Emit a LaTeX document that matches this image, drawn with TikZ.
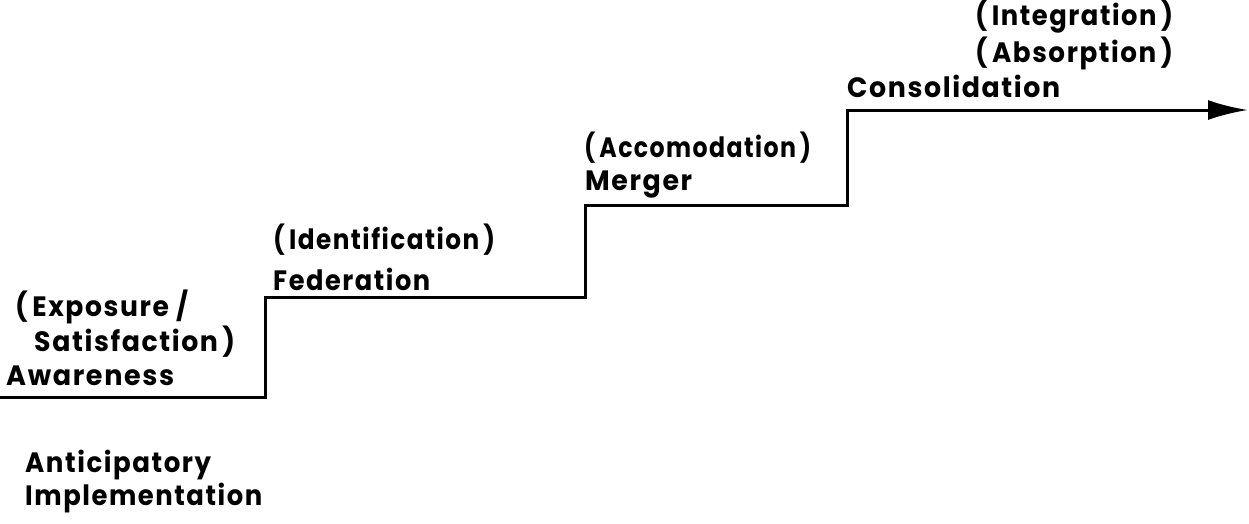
\documentclass[tikz,border=0pt]{standalone}
\usepackage{fontspec}
\usepackage{graphicx}
\setmainfont{Poppins}[UprightFont=* Bold, LetterSpace=6]
\usetikzlibrary{arrows.meta}
% set a label to a given width, keeping its height
\newcommand\setwide[2]{\resizebox{#1pt}{\height}{#2}}
\begin{document}
\begin{tikzpicture}[x=1pt,y=-1pt,
  lbl/.style={anchor=base west,inner sep=0pt,font=\fontsize{28}{32}\selectfont},
  stair/.style={line width=3pt,line join=miter}]
\useasboundingbox (0,0) rectangle (1249,523);
% staircase of stages
\coordinate (s0) at (0,397);
\coordinate (c1) at (265,397);
\coordinate (c2) at (265,297);
\coordinate (c3) at (585,297);
\coordinate (c4) at (585,205);
\coordinate (c5) at (847,205);
\coordinate (c6) at (847,110);
\coordinate (s1) at (1248,110);
\draw[stair,-{Latex[length=40pt,width=20pt]}] (s0) -- (c1) -- (c2) -- (c3) -- (c4) -- (c5) -- (c6) -- (s1);
% stage labels
\node[lbl] (exp) at (15,316)  {\setwide{173}{(\,Exposure /}};
\node[lbl] (sat) at (34,351)  {\setwide{201}{Satisfaction\,)}};
\node[lbl] (awa) at (6,385)   {\setwide{168}{Awareness}};
\node[lbl] (ide) at (273,249) {\setwide{222}{(\,Identification\,)}};
\node[lbl] (fed) at (273,290) {\setwide{157}{Federation}};
\node[lbl] (acc) at (584,157) {\setwide{227}{(\,Accomodation\,)}};
\node[lbl] (mer) at (585,190) {\setwide{107}{Merger}};
\node[lbl] (int) at (975,25)  {\setwide{198}{(\,Integration\,)}};
\node[lbl] (abs) at (975,62)  {\setwide{198}{(\,Absorption\,)}};
\node[lbl] (con) at (847,97)  {\setwide{213}{Consolidation}};
\node[lbl] (ant) at (25,472)  {\setwide{186}{Anticipatory}};
\node[lbl] (imp) at (25,505)  {\setwide{237}{Implementation}};
\end{tikzpicture}
\end{document}
